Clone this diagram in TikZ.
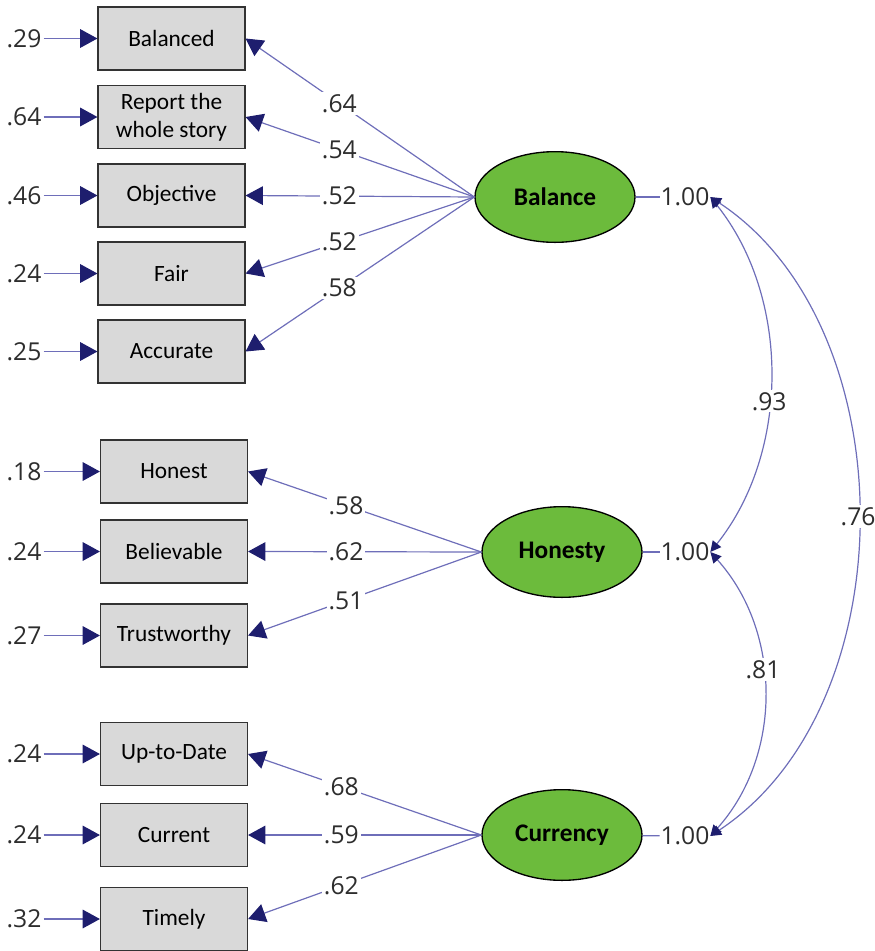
\documentclass[tikz,border=0pt]{standalone}
\usepackage{fontspec}
\setmainfont{Carlito}
\newfontfamily\numfont{Open Sans}
\usetikzlibrary{arrows.meta,shapes.geometric}
\definecolor{pathblue}{RGB}{110,110,185}
\definecolor{tipblue}{RGB}{30,30,110}
\definecolor{boxgray}{RGB}{217,217,217}
\definecolor{latgreen}{RGB}{108,187,60}
\definecolor{numgray}{RGB}{45,45,45}

\begin{document}
\begin{tikzpicture}[x=0.75pt, y=-0.75pt]
            \tikzset{item/.style = {shape=rectangle, draw=black!80, fill=boxgray, line width=1.1pt, minimum width=110pt, minimum height=47pt, align=center, font=\fontsize{17.5}{21}\selectfont}}
            \tikzset{factor/.style = {shape=ellipse, draw=black, fill=latgreen, line width=1pt, minimum width=120pt, minimum height=68pt, inner sep=0pt, font=\bfseries\fontsize{19}{21}\selectfont}}
            \tikzset{coef/.style = {font=\numfont\fontsize{18.5}{20}\selectfont, text=numgray, fill=white, inner sep=1.5pt}}
            \tikzset{load/.style = {draw=pathblue, line width=0.9pt, -{Triangle[length=13pt, width=14pt, color=tipblue]}}}
            \tikzset{cov/.style = {draw=pathblue, line width=0.9pt, {Triangle[length=8pt, width=8pt, color=tipblue]}-{Triangle[length=8pt, width=8pt, color=tipblue]}}}

            \useasboundingbox (0,0) rectangle (875,951);

            % observed items
            \node[item] (b1) at (171.5, 38.5) {Balanced};
            \node[item] (b2) at (171.5, 117) {Report the\\whole story};
            \node[item] (b3) at (171.5, 195.5) {Objective};
            \node[item] (b4) at (171.5, 273.5) {Fair};
            \node[item] (b5) at (171.5, 351.5) {Accurate};

            \node[item] (h1) at (174, 471.5) {Honest};
            \node[item] (h2) at (174, 551.5) {Believable};
            \node[item] (h3) at (174, 635.5) {Trustworthy};

            \node[item] (c1) at (174, 754) {Up-to-Date};
            \node[item] (c2) at (174, 835) {Current};
            \node[item] (c3) at (174, 919) {Timely};

            % error terms
            \node[coef, fill=none] (eb1) at (24, 38.5) {.29};
            \node[coef, fill=none] (eb2) at (24, 117) {.64};
            \node[coef, fill=none] (eb3) at (24, 195.5) {.46};
            \node[coef, fill=none] (eb4) at (24, 273.5) {.24};
            \node[coef, fill=none] (eb5) at (24, 351.5) {.25};
            \node[coef, fill=none] (eh1) at (24, 471.5) {.18};
            \node[coef, fill=none] (eh2) at (24, 551.5) {.24};
            \node[coef, fill=none] (eh3) at (24, 635.5) {.27};
            \node[coef, fill=none] (ec1) at (24, 754) {.24};
            \node[coef, fill=none] (ec2) at (24, 835) {.24};
            \node[coef, fill=none] (ec3) at (24, 919) {.32};

            \draw[load] (eb1) to (b1);
            \draw[load] (eb2) to (b2);
            \draw[load] (eb3) to (b3);
            \draw[load] (eb4) to (b4);
            \draw[load] (eb5) to (b5);
            \draw[load] (eh1) to (h1);
            \draw[load] (eh2) to (h2);
            \draw[load] (eh3) to (h3);
            \draw[load] (ec1) to (c1);
            \draw[load] (ec2) to (c2);
            \draw[load] (ec3) to (c3);

            % latent factors
            \node[factor] (fb) at (555, 197) {Balance};
            \node[factor] (fh) at (562, 552) {Honesty};
            \node[factor] (fc) at (562, 835) {Currency};

            \draw[load] (fb.west) to node[coef, pos=0.59] {.64} (b1.east);
            \draw[load] (fb.west) to node[coef, pos=0.59] {.54} (b2.east);
            \draw[load] (fb.west) to node[coef, pos=0.59] {.52} (b3.east);
            \draw[load] (fb.west) to node[coef, pos=0.59] {.52} (b4.east);
            \draw[load] (fb.west) to node[coef, pos=0.59] {.58} (b5.east);

            \draw[load] (fh.west) to node[coef, pos=0.58] {.58} (h1.east);
            \draw[load] (fh.west) to node[coef, pos=0.58] {.62} (h2.east);
            \draw[load] (fh.west) to node[coef, pos=0.58] {.51} (h3.east);

            \draw[load] (fc.west) to node[coef, pos=0.6] {.68} (c1.east);
            \draw[load] (fc.west) to node[coef, pos=0.6] {.59} (c2.east);
            \draw[load] (fc.west) to node[coef, pos=0.6] {.62} (c3.east);

            % variances
            \node[coef, fill=none, inner sep=0.5pt] (vb) at (685, 197) {1.00};
            \node[coef, fill=none, inner sep=0.5pt] (vh) at (685, 552) {1.00};
            \node[coef, fill=none, inner sep=0.5pt] (vc) at (685, 836) {1.00};

            \draw[draw=pathblue, line width=0.9pt] (fb) to (vb);
            \draw[draw=pathblue, line width=0.9pt] (fh) to (vh);
            \draw[draw=pathblue, line width=0.9pt] (fc) to (vc);

            % covariances
            \draw[cov] (vb.east) .. controls +(80,100) and +(80,-100) .. (vh.east) node[coef, pos=0.57] {.93};
            \draw[cov] (vh.east) .. controls +(72,80) and +(72,-80) .. (vc.east) node[coef, pos=0.42] {.81};
            \draw[cov] (vb.east) .. controls +(197,130) and +(197,-130) .. (vc.east) node[coef, pos=0.5] {.76};
\end{tikzpicture}
\end{document}
